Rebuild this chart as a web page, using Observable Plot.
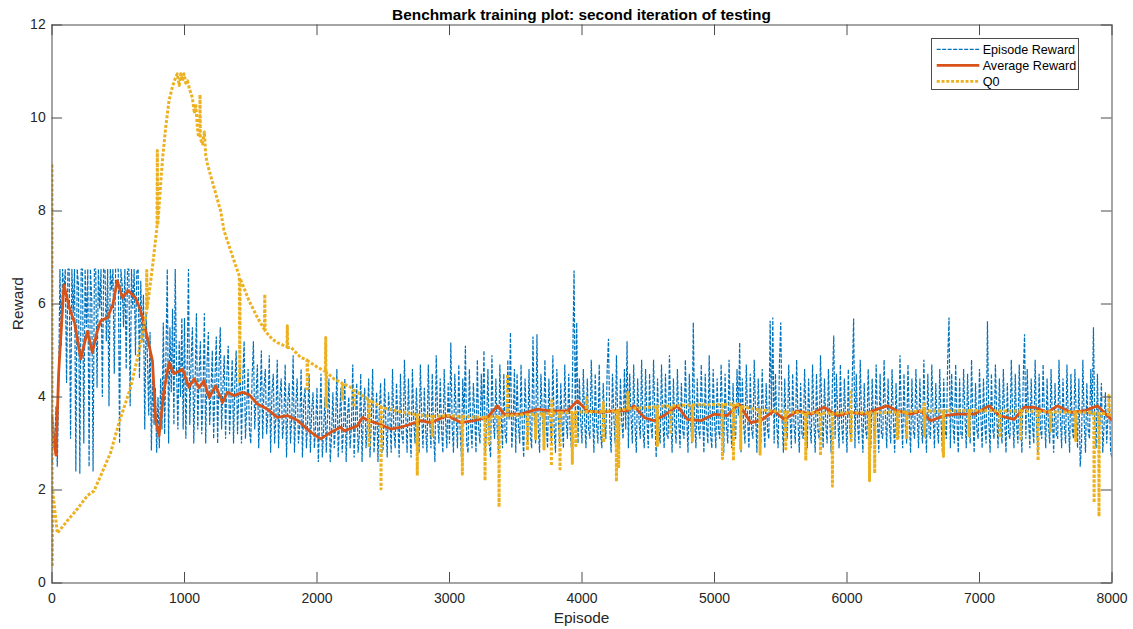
<!DOCTYPE html>
<html>
<head>
<meta charset="utf-8">
<script src="https://cdn.jsdelivr.net/npm/d3@7"></script>
<script src="https://cdn.jsdelivr.net/npm/@observablehq/plot@0.6"></script>
<style>
  body { margin: 0; background: #fff; }
  #fig { position: relative; width: 1133px; height: 629px; font-family: "Liberation Sans", Arial, Helvetica, sans-serif; color: #262626; }
  #title { height: 22px; box-sizing: border-box; padding-top: 6.4px; line-height: 17.2px; font-size: 15.4px; font-weight: bold; color: #000; text-align: center; margin-left: 51.5px; width: 1060px; white-space: nowrap; }
  #xlabel { position: absolute; left: 51.5px; width: 1060px; top: 609px; text-align: center; font-size: 15.4px; line-height: 17.2px; }
  #ylabel { position: absolute; left: -82px; top: 295px; width: 200px; text-align: center; font-size: 15.4px; line-height: 17.2px; transform: rotate(-90deg); }
  #legend { position: absolute; left: 931px; top: 38px; width: 148px; height: 52px; box-sizing: border-box; border: 1px solid #4d4d4d; background: #fff; }
  #legend svg { position: absolute; left: 0; top: 0; }
</style>
</head>
<body>
<div id="fig">
  <div id="title">Benchmark training plot: second iteration of testing</div>
  <div id="chart"></div>
  <div id="xlabel">Episode</div>
  <div id="ylabel">Reward</div>
  <div id="legend"></div>
</div>
<script>
// Episode reward, one value every 10 episodes (0 … 8000), 50 values per row
const rewardStep = 10;
const episodeReward = [
  2.6, 3.4, 2.9, 3.8, 2.5, 4.2, 6.75, 5.1, 6.75, 6.2, 6.75, 4.3, 6.75, 6.75, 3.1, 6.75, 5.8, 6.75, 2.4, 6.75, 6.4, 2.35, 6.75, 6.75, 3.0, 6.75, 5.5, 6.75, 2.5, 6.75, 6.1, 2.4, 6.75, 6.75, 4.2, 6.75, 5.9, 6.75, 4.0, 6.75, 6.75, 5.2, 6.75, 3.8, 6.75, 6.3, 6.75, 4.5, 6.75, 6.75,
  6.75, 3.0, 6.75, 6.4, 5.5, 6.75, 4.6, 6.75, 6.75, 3.8, 6.75, 5.9, 6.75, 4.9, 6.7, 6.75, 4.4, 6.5, 5.2, 6.2, 3.3, 5.8, 4.9, 3.6, 5.4, 2.85, 4.6, 3.4, 4.2, 2.8, 4.0, 2.9, 4.4, 3.3, 5.6, 3.2, 4.9, 6.75, 3.0, 5.5, 4.1, 5.9, 3.4, 6.75, 4.6, 3.3, 5.2, 4.0, 5.7, 3.3,
  5.7, 3.1, 4.6, 6.75, 3.4, 4.8, 5.5, 3.0, 4.3, 5.8, 3.3, 4.5, 5.2, 3.2, 4.0, 5.8, 3.0, 4.7, 5.4, 3.4, 4.1, 5.0, 3.1, 4.4, 5.3, 3.0, 4.6, 5.5, 3.3, 4.2, 4.9, 3.1, 4.5, 5.1, 3.2, 3.9, 4.8, 3.0, 4.3, 5.0, 3.2, 4.1, 4.7, 3.0, 4.4, 5.2, 3.1, 3.8, 4.6, 3.3,
  3.0, 4.4, 5.2, 3.3, 4.0, 4.7, 2.9, 3.8, 5.0, 3.1, 4.2, 4.6, 3.2, 3.7, 4.9, 2.8, 4.1, 4.5, 3.0, 3.6, 4.8, 2.9, 4.0, 4.4, 3.1, 3.5, 4.7, 2.7, 3.9, 4.3, 3.0, 3.6, 4.9, 2.8, 3.8, 4.4, 3.0, 3.4, 4.6, 2.7, 3.9, 4.2, 2.9, 3.5, 4.5, 2.8, 3.7, 4.1, 2.9, 3.4,
  4.2, 2.6, 3.5, 4.5, 2.7, 3.3, 4.0, 2.8, 3.6, 4.4, 2.6, 3.2, 4.1, 2.9, 3.4, 4.6, 2.7, 3.5, 4.2, 2.8, 3.3, 4.4, 2.6, 3.6, 4.0, 2.9, 3.4, 4.7, 2.7, 3.5, 4.3, 2.8, 3.2, 4.5, 2.6, 3.6, 4.2, 2.9, 3.4, 4.4, 2.7, 3.5, 4.6, 2.8, 3.3, 4.1, 2.6, 3.7, 4.3, 2.8,
  2.9, 4.4, 3.4, 2.7, 4.1, 3.6, 2.8, 4.6, 3.3, 2.9, 4.3, 3.5, 2.7, 4.5, 3.2, 3.0, 4.8, 3.6, 2.8, 4.4, 3.3, 2.7, 4.6, 3.5, 3.0, 4.2, 3.4, 2.8, 4.7, 3.6, 2.9, 4.2, 3.3, 2.8, 4.7, 3.5, 2.9, 4.5, 3.2, 2.6, 4.9, 3.6, 3.0, 4.4, 3.3, 2.8, 4.6, 3.5, 2.9, 4.3,
  3.0, 5.17, 3.4, 2.8, 4.5, 3.6, 2.9, 4.7, 3.3, 2.7, 4.4, 3.5, 5.1, 3.0, 2.8, 4.6, 3.4, 2.9, 4.3, 3.6, 2.8, 4.8, 3.3, 3.0, 4.5, 3.5, 5.0, 2.8, 3.4, 4.6, 3.0, 2.7, 4.9, 3.5, 3.1, 4.4, 3.3, 2.8, 4.7, 3.6, 2.9, 4.5, 3.2, 3.0, 4.8, 3.5, 5.39, 2.9, 3.4, 4.6,
  2.8, 4.5, 3.4, 3.0, 4.7, 3.3, 2.7, 4.4, 3.6, 3.0, 4.6, 3.2, 2.9, 5.3, 3.5, 3.0, 5.35, 3.3, 2.8, 4.5, 3.6, 3.1, 4.8, 3.4, 2.9, 4.4, 3.5, 3.0, 4.9, 3.3, 2.8, 4.6, 3.6, 3.0, 4.3, 3.4, 2.9, 4.7, 3.5, 3.1, 4.5, 3.3, 2.9, 4.8, 6.72, 3.4, 5.6, 3.0, 4.4, 3.5,
  3.0, 4.6, 3.5, 2.9, 4.4, 3.3, 3.1, 4.8, 3.6, 2.8, 4.5, 3.4, 3.0, 4.7, 3.2, 2.9, 4.3, 3.5, 3.1, 4.6, 5.25, 3.3, 2.8, 4.5, 3.6, 3.0, 4.9, 3.4, 2.9, 4.4, 3.5, 3.1, 4.6, 3.3, 5.2, 2.9, 4.5, 3.6, 3.0, 4.7, 3.4, 2.8, 4.4, 3.5, 3.1, 4.8, 3.3, 2.9, 4.6, 3.5,
  2.9, 4.5, 3.4, 3.1, 4.8, 3.6, 2.7, 4.4, 3.3, 3.0, 4.7, 3.5, 2.9, 4.5, 3.2, 3.1, 4.9, 3.6, 2.8, 4.4, 3.4, 3.0, 4.6, 3.5, 2.9, 4.3, 3.3, 3.1, 4.8, 3.6, 2.8, 4.5, 3.4, 3.0, 5.6, 3.5, 2.9, 4.4, 3.3, 3.1, 4.7, 3.6, 2.8, 4.5, 3.4, 3.0, 4.9, 3.2, 2.9, 4.6,
  3.5, 2.9, 4.4, 3.3, 3.1, 4.7, 3.6, 2.8, 4.5, 3.4, 3.0, 4.8, 3.5, 2.9, 4.3, 3.2, 3.1, 4.6, 3.6, 5.17, 2.8, 4.4, 3.4, 3.0, 4.7, 3.5, 2.9, 4.5, 3.3, 3.1, 4.8, 3.6, 2.8, 4.4, 3.4, 3.0, 4.6, 3.5, 2.9, 4.3, 3.3, 3.1, 5.64, 3.6, 5.71, 3.0, 4.5, 3.4, 2.9, 4.7,
  5.6, 3.5, 2.8, 4.4, 3.3, 3.1, 4.7, 3.6, 2.9, 4.5, 3.4, 3.0, 4.8, 3.5, 2.8, 4.3, 3.2, 3.1, 4.6, 3.6, 2.9, 4.4, 3.4, 3.0, 4.7, 3.5, 2.8, 4.5, 3.3, 3.1, 4.9, 3.6, 2.9, 4.4, 3.4, 3.0, 4.6, 3.5, 2.8, 4.3, 5.32, 3.1, 4.5, 3.6, 2.9, 4.7, 3.4, 3.0, 4.4, 3.5,
  2.8, 4.6, 3.3, 3.1, 4.4, 5.69, 2.9, 4.5, 3.4, 3.0, 4.8, 3.5, 2.8, 4.3, 3.3, 3.1, 4.6, 3.6, 2.9, 4.4, 3.4, 3.0, 4.7, 3.5, 2.8, 4.5, 3.2, 3.1, 4.8, 3.6, 2.9, 4.4, 3.4, 3.0, 4.6, 3.5, 2.8, 4.3, 3.3, 3.1, 4.9, 3.6, 2.9, 4.5, 3.4, 3.0, 4.7, 3.5, 2.8, 4.4,
  3.3, 3.1, 4.6, 3.6, 2.9, 4.4, 3.4, 3.0, 4.8, 3.5, 2.8, 4.5, 3.2, 3.1, 4.7, 3.6, 2.9, 4.3, 3.4, 3.0, 4.6, 3.5, 2.8, 4.4, 3.3, 3.1, 4.8, 5.71, 2.9, 4.5, 3.4, 3.0, 4.7, 3.5, 2.8, 4.4, 3.2, 3.1, 4.6, 3.6, 2.9, 4.5, 3.4, 3.0, 4.8, 3.5, 2.8, 4.3, 3.3, 3.1,
  4.6, 3.6, 2.9, 4.4, 3.4, 3.0, 5.63, 3.5, 2.8, 4.5, 3.3, 3.1, 4.7, 3.6, 2.9, 4.4, 3.4, 3.0, 4.6, 3.5, 2.8, 4.3, 3.2, 3.1, 4.8, 3.6, 2.9, 4.5, 3.4, 3.0, 4.7, 3.5, 2.8, 4.4, 5.35, 3.1, 4.6, 3.6, 2.9, 4.4, 3.4, 3.0, 4.8, 3.5, 2.8, 4.5, 3.3, 3.1, 4.7, 3.6,
  2.9, 4.4, 3.4, 3.0, 4.6, 3.5, 2.8, 4.3, 3.2, 3.1, 4.8, 3.6, 2.9, 4.4, 3.4, 3.0, 4.7, 3.5, 2.8, 4.5, 3.3, 3.1, 4.6, 3.6, 2.9, 4.4, 2.5, 3.0, 4.8, 3.5, 2.8, 4.3, 3.3, 3.1, 4.6, 3.6, 5.5, 3.4, 2.9, 4.5, 3.0, 3.5, 4.3, 2.8, 3.4, 4.1, 3.0, 3.6, 4.0, 2.8,
  2.7
];

// Average reward (running mean): [episode, value]
const averageReward = [
  [0, 3.6], [15, 3.0], [30, 2.75], [50, 4.5], [90, 6.41], [130, 5.93], [170, 5.6], [217, 4.82], [267, 5.41], [305, 4.96],
  [340, 5.4], [368, 5.64], [420, 5.71], [460, 6.0], [493, 6.5], [531, 6.13], [574, 6.29], [632, 6.13], [669, 5.85], [720, 5.28],
  [758, 4.78], [783, 3.49], [808, 3.17], [845, 4.13], [883, 4.74], [921, 4.5], [984, 4.6], [1034, 4.21], [1072, 4.39], [1110, 4.2],
  [1147, 4.35], [1185, 3.99], [1236, 4.24], [1286, 3.88], [1324, 4.1], [1374, 4.03], [1437, 4.1], [1487, 4.05], [1550, 3.85], [1625, 3.74],
  [1701, 3.56], [1776, 3.6], [1852, 3.5], [1950, 3.25], [2028, 3.1], [2103, 3.24], [2179, 3.35], [2205, 3.27], [2305, 3.38], [2343, 3.56],
  [2400, 3.48], [2470, 3.42], [2557, 3.31], [2633, 3.35], [2708, 3.42], [2783, 3.49], [2859, 3.45], [2984, 3.6], [3085, 3.45], [3185, 3.49],
  [3286, 3.56], [3362, 3.81], [3412, 3.63], [3537, 3.63], [3663, 3.74], [3764, 3.7], [3890, 3.7], [3965, 3.92], [4041, 3.7], [4141, 3.67],
  [4242, 3.7], [4342, 3.7], [4393, 3.81], [4468, 3.56], [4543, 3.49], [4619, 3.6], [4720, 3.81], [4795, 3.52], [4896, 3.49], [4996, 3.63],
  [5097, 3.6], [5185, 3.85], [5273, 3.45], [5349, 3.49], [5449, 3.7], [5525, 3.52], [5626, 3.7], [5726, 3.63], [5827, 3.78], [5927, 3.6],
  [6028, 3.67], [6129, 3.63], [6229, 3.74], [6305, 3.81], [6381, 3.7], [6481, 3.63], [6557, 3.7], [6632, 3.49], [6733, 3.6], [6833, 3.63],
  [6959, 3.63], [7072, 3.81], [7148, 3.6], [7262, 3.52], [7337, 3.78], [7413, 3.78], [7513, 3.67], [7588, 3.81], [7689, 3.67], [7789, 3.7],
  [7890, 3.81], [8000, 3.5]
];

// Q0 (critic estimate of the initial value): [episode, value]
const q0 = [
  [0, 9.0], [2, 0.35], [5, 2.0], [40, 1.07], [116, 1.34], [191, 1.59], [267, 1.88], [317, 1.98], [368, 2.31], [443, 2.81],
  [506, 3.45], [594, 4.21], [669, 5.14], [712, 5.8], [715, 6.72], [718, 5.9], [758, 6.79], [792, 7.65], [795, 9.3], [798, 7.7],
  [833, 9.08], [858, 9.8], [883, 10.37], [908, 10.66], [930, 10.85], [946, 10.95], [960, 10.7], [972, 10.95], [985, 10.8], [996, 10.95],
  [1010, 10.75], [1022, 10.8], [1040, 10.6], [1059, 10.44], [1075, 10.1], [1085, 10.3], [1097, 9.8], [1105, 9.6], [1114, 9.6], [1117, 10.5],
  [1120, 9.55], [1135, 9.44], [1150, 9.7], [1160, 9.2], [1173, 9.01], [1223, 8.5], [1273, 8.0], [1298, 7.58], [1374, 6.93], [1414, 6.6],
  [1417, 4.3], [1420, 6.55], [1487, 6.07], [1550, 5.71], [1603, 5.45], [1606, 6.21], [1609, 5.42], [1660, 5.25], [1701, 5.17], [1773, 5.08],
  [1776, 5.53], [1779, 5.06], [1802, 5.07], [1877, 4.85], [1924, 4.8], [1927, 4.17], [1930, 4.78], [2003, 4.64], [2063, 4.55], [2066, 5.28],
  [2069, 3.78], [2072, 4.53], [2128, 4.39], [2189, 4.3], [2192, 3.92], [2195, 4.29], [2254, 4.21], [2277, 4.15], [2280, 3.78], [2283, 4.14],
  [2380, 3.96], [2390, 3.94], [2393, 2.92], [2396, 3.93], [2480, 3.79], [2483, 2.02], [2486, 3.78], [2600, 3.7], [2733, 3.63],
  [2754, 3.62], [2757, 2.31], [2760, 3.62], [2867, 3.58], [2870, 3.13], [2873, 3.58], [2984, 3.6],
  [3094, 3.58], [3097, 2.34], [3100, 3.58], [3265, 3.56], [3268, 2.2], [3271, 3.57], [3295, 3.57], [3298, 3.0], [3301, 3.57],
  [3371, 3.58], [3374, 1.63], [3377, 3.58], [3434, 3.6], [3437, 4.49], [3440, 3.6], [3585, 3.62], [3588, 2.85], [3591, 3.62],
  [3647, 3.63], [3650, 3.1], [3653, 3.63], [3710, 3.64], [3713, 2.88], [3716, 3.64], [3766, 3.65], [3769, 2.52], [3772, 3.92], [3775, 3.65],
  [3831, 3.66], [3834, 2.45], [3837, 3.66], [3924, 3.67], [3927, 2.57], [3930, 3.67], [3950, 3.67], [3953, 2.95], [3956, 3.68],
  [4032, 3.68], [4035, 3.99], [4038, 3.68], [4158, 3.69], [4161, 3.88], [4164, 3.02], [4167, 3.7], [4257, 3.7], [4260, 2.18], [4263, 3.7],
  [4274, 3.71], [4277, 2.5], [4280, 3.72], [4344, 3.74], [4347, 4.1], [4350, 3.75], [4566, 3.79], [4569, 2.95], [4572, 3.8],
  [4666, 3.81], [4669, 3.2], [4672, 3.81], [4830, 3.83], [4833, 3.06], [4836, 3.83], [5057, 3.84], [5060, 2.67], [5063, 3.84],
  [5140, 3.85], [5143, 2.63], [5146, 3.85], [5195, 3.82], [5198, 2.88], [5201, 3.8], [5341, 3.72], [5344, 2.77], [5347, 3.72],
  [5535, 3.68], [5538, 2.88], [5541, 3.68], [5686, 3.66], [5689, 2.63], [5692, 3.66], [5797, 3.66], [5800, 2.74], [5803, 3.66],
  [5887, 3.65], [5890, 2.08], [5893, 3.65], [6025, 3.66], [6028, 4.1], [6031, 3.06], [6034, 3.66], [6167, 3.66], [6170, 2.2], [6173, 3.66],
  [6206, 3.66], [6209, 2.36], [6212, 3.66], [6378, 3.68], [6381, 3.1], [6384, 3.68], [6448, 3.68], [6451, 3.13], [6454, 3.68],
  [6579, 3.7], [6582, 3.85], [6585, 3.16], [6588, 3.7], [6725, 3.7], [6728, 2.72], [6731, 3.7], [6918, 3.71], [6921, 3.16], [6924, 3.71],
  [7152, 3.7], [7155, 3.13], [7158, 3.7], [7308, 3.7], [7311, 3.1], [7314, 3.7], [7439, 3.69], [7442, 2.63], [7445, 3.69],
  [7534, 3.68], [7537, 3.27], [7540, 3.68], [7723, 3.68], [7726, 3.06], [7729, 3.68], [7862, 3.66], [7865, 1.73], [7868, 3.66],
  [7899, 3.65], [7902, 1.43], [7905, 3.65], [7974, 3.63], [7977, 4.03], [7980, 3.62], [8000, 3.6]
];

const xTicks = [0, 1000, 2000, 3000, 4000, 5000, 6000, 7000, 8000];
const yTicks = [0, 2, 4, 6, 8, 10, 12];

const series = [
  {name: "Episode Reward", color: "#0072BD", width: 1.2, dash: "4,1.5"},
  {name: "Average Reward", color: "#D95319", width: 2.8, dash: null},
  {name: "Q0", color: "#EDB120", width: 3, dash: "3,1.8"}
];

const rewardRows = episodeReward.map((r, i) => ({episode: i * rewardStep, value: r}));
const avgRows = averageReward.map(([e, v]) => ({episode: e, value: v}));
const q0Rows = q0.map(([e, v]) => ({episode: e, value: v}));

const W = 1133, H = 607;
const mL = 51.5, mR = 21.5, mT = 2.5, mB = 46.5;
const innerW = W - mL - mR, innerH = H - mT - mB;
const tickLen = 10.6;
const axisColor = "#4d4d4d";

const chart = Plot.plot({
  width: W, height: H,
  marginLeft: mL, marginRight: mR, marginTop: mT, marginBottom: mB,
  style: {fontFamily: '"Liberation Sans", Arial, Helvetica, sans-serif', fontSize: "14px", color: "#262626", background: "#fff", overflow: "visible"},
  x: {domain: [0, 8000]},
  y: {domain: [0, 12]},
  marks: [
    Plot.line(rewardRows, {x: "episode", y: "value", stroke: series[0].color, strokeWidth: series[0].width, strokeDasharray: series[0].dash, strokeLinecap: "butt", strokeLinejoin: "miter", clip: true}),
    Plot.line(avgRows, {x: "episode", y: "value", stroke: series[1].color, strokeWidth: series[1].width, strokeLinejoin: "round", clip: true}),
    Plot.line(q0Rows, {x: "episode", y: "value", stroke: series[2].color, strokeWidth: series[2].width, strokeDasharray: series[2].dash, strokeLinecap: "butt", clip: true}),
    Plot.frame({stroke: axisColor, strokeWidth: 1}),
    // inward ticks on all four sides
    Plot.ruleX(xTicks, {x: d => d, stroke: axisColor, insetTop: innerH - tickLen}),
    Plot.ruleX(xTicks, {x: d => d, stroke: axisColor, insetBottom: innerH - tickLen}),
    Plot.ruleY(yTicks, {y: d => d, stroke: axisColor, insetRight: innerW - tickLen}),
    Plot.ruleY(yTicks, {y: d => d, stroke: axisColor, insetLeft: innerW - tickLen}),
    Plot.axisX(xTicks, {tickSize: 0, tickPadding: 10.5, tickFormat: d => String(d), label: null, fill: "#262626"}),
    Plot.axisY(yTicks, {tickSize: 0, tickPadding: 6.3, tickFormat: d => String(d), label: null, fill: "#262626"})
  ]
});
document.getElementById("chart").appendChild(chart);

// legend box
const lg = d3.select("#legend").append("svg").attr("width", 148).attr("height", 52);
series.forEach((s, i) => {
  const cy = 10.3 + i * 16;
  lg.append("line").attr("x1", 4.7).attr("x2", 47.3).attr("y1", cy).attr("y2", cy)
    .attr("stroke", s.color).attr("stroke-width", Math.min(s.width, 2.8)).attr("stroke-dasharray", s.dash);
  lg.append("text").attr("x", 50.7).attr("y", cy).attr("dy", "0.35em")
    .attr("font-size", "12.6px").attr("fill", "#000")
    .attr("font-family", '"Liberation Sans", Arial, Helvetica, sans-serif').text(s.name);
});
</script>
</body>
</html>
